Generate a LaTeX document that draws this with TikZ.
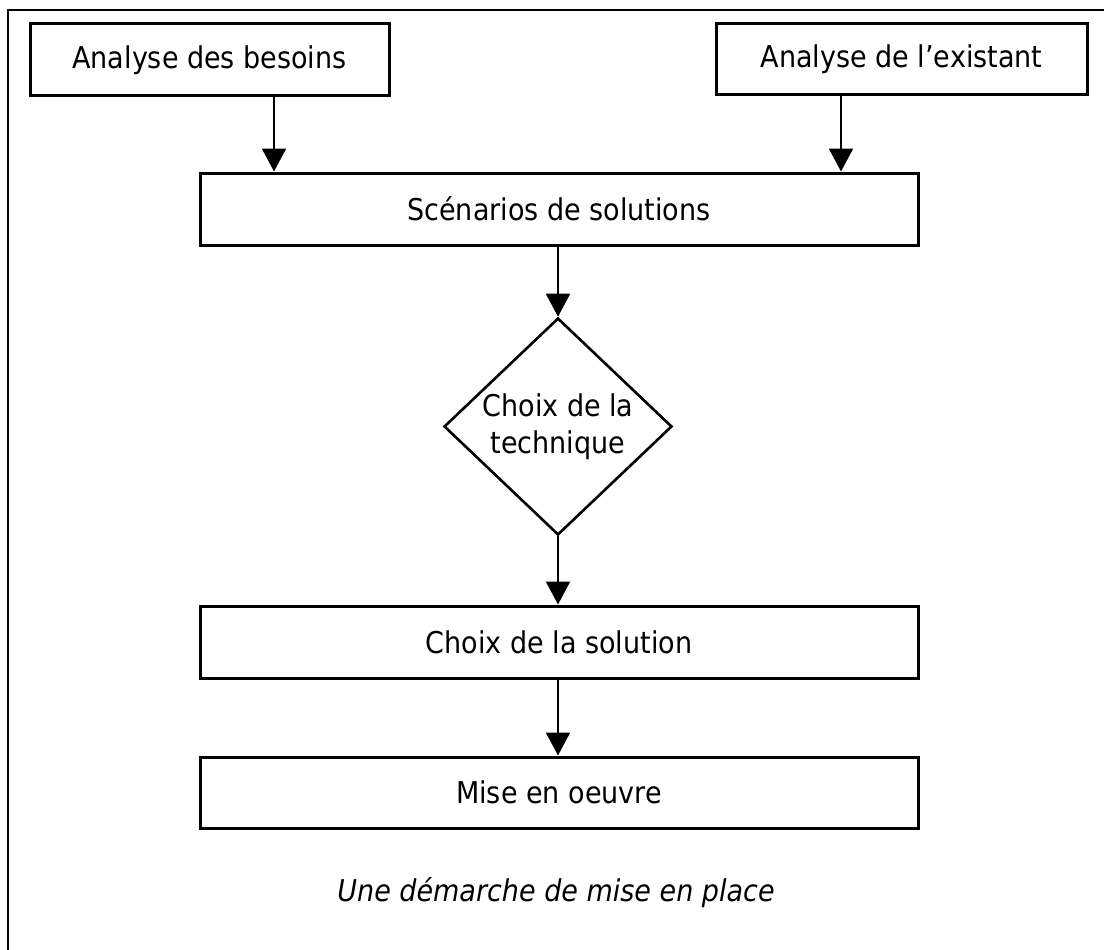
\documentclass[tikz,border=0pt]{standalone}
\usepackage{fontspec}
\setmainfont{DejaVu Sans}[FakeStretch=0.9]
\usetikzlibrary{shapes.geometric,arrows.meta}
\tikzset{
  box/.style={draw, line width=3pt, rectangle, inner sep=0pt, font=\fontsize{30}{36}\selectfont},
  decision/.style={draw, line width=2.6pt, diamond, inner sep=0pt, font=\fontsize{30}{37}\selectfont, align=center},
  arr/.style={line width=2pt, -{Triangle[length=23pt,width=24pt]}},
  frame/.style={line width=2pt}
}
\begin{document}
\begin{tikzpicture}[x=1pt,y=-1pt]
\useasboundingbox (0,0) rectangle (1104,950);
\coordinate (ftl) at (8,10);
\coordinate (ftr) at (1104,10);
\coordinate (fbl) at (8,950);
\draw[frame] (ftr) -- (ftl) -- (fbl);

\node[box, minimum width=359pt, minimum height=72pt] (besoins) at (209.5,60) {Analyse des besoins};
\node[box, minimum width=371pt, minimum height=71pt] (existant) at (901.5,59.5) {Analyse de l’existant};
\node[box, minimum width=718pt, minimum height=72pt] (scenarios) at (559,209) {Scénarios de solutions};
\node[decision, minimum width=228pt, minimum height=207pt] (tech) at (558,426.5) {Choix de la\\technique};
\node[box, minimum width=718pt, minimum height=72pt] (solution) at (559,642) {Choix de la solution};
\node[box, minimum width=718pt, minimum height=71pt] (mise) at (559,792.5) {Mise en oeuvre};
\node[font=\fontsize{30}{36}\selectfont\itshape] (caption) at (556,893) {Une démarche de mise en place};

\coordinate (c1) at (274,0);
\coordinate (c2) at (841,0);
\draw[arr] (c1 |- besoins.south) -- (c1 |- scenarios.north);
\draw[arr] (c2 |- existant.south) -- (c2 |- scenarios.north);
\draw[arr] (tech.north |- scenarios.south) -- (tech.north);
\draw[arr] (tech.south) -- (tech.south |- solution.north);
\draw[arr] (tech.south |- solution.south) -- (tech.south |- mise.north);
\end{tikzpicture}
\end{document}
